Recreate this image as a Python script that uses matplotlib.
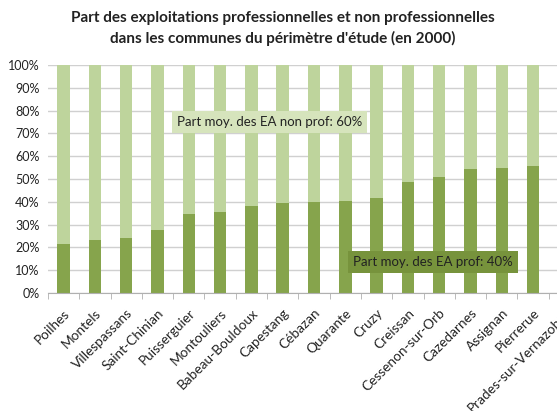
import matplotlib
matplotlib.use("Agg")
import matplotlib.pyplot as plt
from matplotlib.ticker import PercentFormatter

communes = ["Poilhes", "Montels", "Villespassans", "Saint-Chinian",
            "Puisserguier", "Montouliers", "Babeau-Bouldoux", "Capestang",
            "Cébazan", "Quarante", "Cruzy", "Creissan", "Cessenon-sur-Orb",
            "Cazedarnes", "Assignan", "Pierrerue", "Prades-sur-Vernazobre"]
prof = [21.3, 23.2, 24.3, 27.6, 34.7, 35.7, 38.1, 39.5,
        40.0, 40.4, 41.5, 48.7, 50.9, 54.2, 54.7, 55.7, 57.0]
non_prof = [100 - p for p in prof]

DARK = "#86A44C"
LIGHT = "#BED49C"

plt.rcParams["font.family"] = ["Lato", "DejaVu Sans"]

fig = plt.figure(figsize=(5.57, 4.11), dpi=100)
ax = fig.add_axes([48 / 557, 118 / 411, 532 / 557, 228 / 411])

x = list(range(len(communes)))
ax.bar(x, prof, width=0.4, color=DARK, zorder=2)
ax.bar(x, non_prof, width=0.4, bottom=prof, color=LIGHT, zorder=2)

ax.set_xlim(-0.5, len(communes) - 0.5)
ax.set_ylim(0, 100)
ax.set_yticks(range(0, 101, 10))
ax.yaxis.set_major_formatter(PercentFormatter(decimals=0))
ax.grid(axis="y", color="#D0D0D0", lw=1, zorder=0)
for s in ("top", "right", "left"):
    ax.spines[s].set_visible(False)
ax.spines["bottom"].set_color("#B0B0B0")
ax.tick_params(axis="y", length=0, labelsize=9, colors="#222222", pad=6)
ax.set_xticks(x)
ax.set_xticklabels(communes, rotation=45, ha="right", rotation_mode="anchor",
                   fontsize=9.8, color="#222222")
ax.tick_params(axis="x", which="major", length=0, pad=10)
ax.set_xticks([-0.5] + [i + 0.5 for i in x], minor=True)
ax.tick_params(axis="x", which="minor", length=4, color="#B0B0B0")

ax.text(3.62, 75, "Part moy. des EA non prof: 60%", fontsize=9.5, va="center",
        color="#222222", zorder=5,
        bbox=dict(boxstyle="square,pad=0.4", fc="#D6E4BC", ec="none"))
ax.text(9.25, 13.5, "Part moy. des EA prof: 40%", fontsize=9.5, va="center",
        color="#222222", zorder=5,
        bbox=dict(boxstyle="square,pad=0.4", fc="#77933C", ec="none"))

fig.text(0.508, 0.974, "Part des exploitations professionnelles et non professionnelles\n"
         "dans les communes du périmètre d'étude (en 2000)",
         ha="center", va="top", fontsize=11, fontweight="bold",
         linespacing=1.5, color="#222222")

fig.savefig("out.png", dpi=100)
